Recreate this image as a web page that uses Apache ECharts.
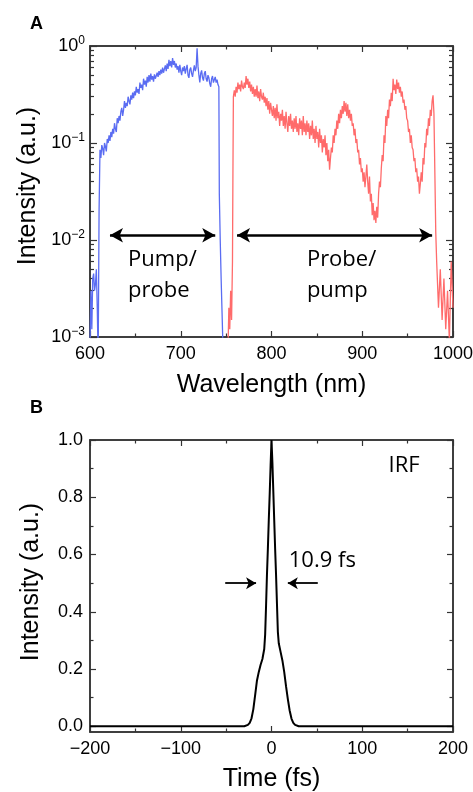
<!DOCTYPE html>
<html>
<head>
<meta charset="utf-8">
<script src="https://cdn.jsdelivr.net/npm/echarts@6/dist/echarts.min.js"></script>
<style>html,body{margin:0;padding:0;background:#fff}#c{width:473px;height:792px}</style>
</head>
<body>
<div id="c"></div>
<script>
// ---- Panel A: spectra (wavelength nm, intensity a.u.) ----
const blueWl = [600,601,602,603,604,605,606,607,608,609,610,
611,612,613,614,615,616,617,618,619,620,621,622,623,624,625,626,627,628,629,630,
631,632,633,634,635,636,637,638,639,640,641,642,643,644,645,646,647,648,649,650,
651,652,653,654,655,656,657,658,659,660,661,662,663,664,665,666,667,668,669,670,
671,672,673,674,675,676,677,678,679,680,681,682,683,684,685,686,687,688,689,690,
691,692,693,694,695,696,697,698,699,700,701,702,703,704,705,706,707,708,709,710,
711,712,713,714,715,716,717,718,719,720,721,722,723,724,725,726,727,728,729,730,
731,732,733,734,735,736,737,738,739,740,741,742,742.5,743.5,744.5,745.5,746.5];
const blueI = [0.0008,0.003,0.0012,0.004,0.0045,0.003,0.0035,0.005,0.002,0.0006,0.02,
0.085,0.07,0.095,0.088,0.075,0.1,0.092,0.082,0.11,0.1,0.12,0.105,0.13,0.115,0.14,0.125,0.16,0.14,0.13,0.18,
0.16,0.19,0.17,0.21,0.23,0.19,0.22,0.27,0.23,0.26,0.24,0.3,0.27,0.25,0.31,0.28,0.33,0.29,0.34,0.31,
0.38,0.33,0.36,0.32,0.42,0.37,0.4,0.35,0.46,0.4,0.44,0.38,0.48,0.42,0.5,0.43,0.52,0.45,0.49,0.43,
0.51,0.46,0.44,0.53,0.48,0.55,0.5,0.57,0.52,0.6,0.53,0.58,0.63,0.55,0.66,0.58,0.72,0.62,0.7,0.6,
0.75,0.64,0.7,0.6,0.66,0.57,0.62,0.53,0.64,0.55,0.5,0.6,0.55,0.62,0.52,0.58,0.64,0.5,0.47,0.57,
0.6,0.52,0.48,0.56,0.63,0.55,0.6,0.95,0.62,0.5,0.42,0.52,0.56,0.47,0.44,0.52,0.55,0.46,0.43,0.5,
0.47,0.41,0.38,0.46,0.49,0.42,0.44,0.48,0.42,0.45,0.4,0.38,0.03,0.01,0.004,0.0018,0.0008];

const redWl = [752,753,754,755,756,757,757.5,
758,759,760,761,762,763,764,765,766,767,768,769,770,771,772,773,774,775,776,777,778,779,780,
781,782,783,784,785,786,787,788,789,790,791,792,793,794,795,796,797,798,799,800,
801,802,803,804,805,806,807,808,809,810,811,812,813,814,815,816,817,818,819,820,
821,822,823,824,825,826,827,828,829,830,831,832,833,834,835,836,837,838,839,840,
841,842,843,844,845,846,847,848,849,850,851,852,853,854,855,856,857,858,859,860,
861,862,863,864,865,866,867,868,869,870,871,872,873,874,875,876,877,878,879,880,
881,882,883,884,885,886,887,888,889,890,891,892,893,894,895,896,897,898,899,900,
901,902,903,904,905,906,907,908,909,910,911,912,913,914,915,916,917,918,919,920,
921,922,923,924,925,926,927,928,929,930,931,932,933,934,935,936,937,938,939,940,
941,942,943,944,945,946,947,948,949,950,951,952,953,954,955,956,957,958,959,960,
961,962,963,964,965,966,967,968,969,970,971,972,973,974,975,976,977,978,979,980,
981,982,984,986,988,990,992,994,996,998,1000];
const redI = [0.0007,0.002,0.0012,0.003,0.0015,0.006,0.05,
0.3,0.35,0.3,0.38,0.33,0.42,0.36,0.4,0.34,0.44,0.38,0.36,0.42,0.37,0.49,0.4,0.46,0.37,0.43,0.34,0.4,0.32,0.38,
0.3,0.36,0.3,0.39,0.29,0.34,0.27,0.36,0.3,0.28,0.33,0.26,0.3,0.24,0.29,0.22,0.27,0.2,0.26,0.22,
0.19,0.24,0.18,0.23,0.17,0.25,0.18,0.21,0.15,0.2,0.17,0.22,0.15,0.19,0.14,0.21,0.16,0.13,0.19,0.15,
0.2,0.14,0.17,0.13,0.18,0.14,0.19,0.13,0.16,0.12,0.18,0.14,0.17,0.12,0.19,0.13,0.16,0.12,0.17,0.13,
0.16,0.11,0.15,0.12,0.17,0.11,0.14,0.1,0.15,0.11,0.13,0.09,0.14,0.1,0.12,0.08,0.11,0.09,0.12,0.075,
0.1,0.065,0.085,0.053,0.07,0.09,0.08,0.12,0.1,0.14,0.12,0.17,0.14,0.2,0.16,0.22,0.18,0.24,0.2,0.27,
0.21,0.26,0.19,0.25,0.18,0.22,0.17,0.2,0.15,0.16,0.12,0.14,0.1,0.11,0.08,0.085,0.06,0.07,0.05,0.055,
0.04,0.05,0.035,0.045,0.06,0.04,0.03,0.045,0.025,0.03,0.018,0.024,0.016,0.02,0.015,0.022,0.017,0.03,0.04,0.035,
0.055,0.075,0.065,0.12,0.1,0.19,0.15,0.22,0.18,0.28,0.24,0.33,0.27,0.46,0.35,0.4,0.32,0.45,0.36,0.42,
0.33,0.38,0.3,0.34,0.26,0.28,0.22,0.24,0.18,0.17,0.13,0.14,0.1,0.12,0.09,0.085,0.065,0.07,0.05,0.055,
0.04,0.045,0.03,0.038,0.05,0.04,0.07,0.06,0.1,0.09,0.14,0.12,0.18,0.15,0.22,0.19,0.27,0.31,0.2,0.05,
0.012,0.006,0.002,0.005,0.0015,0.004,0.0012,0.003,0.0009,0.006,0.002];

// ---- Panel B: instrument response function (time fs, intensity a.u.) ----
const irfT = [-200,-100,-30,-28,-26,-24,-22,-20,-18,-16,-14,-12,-10,-8,-7,-6,-5,-4,-3,-2,-1,0,1,2,3,4,5,6,7,8,10,12,14,16,18,20,22,24,26,28,30,100,200];
const irfI = [0,0,0,0.002,0.005,0.012,0.028,0.06,0.11,0.16,0.19,0.215,0.235,0.27,0.32,0.42,0.53,0.62,0.72,0.81,0.91,1.0,0.92,0.82,0.72,0.62,0.53,0.43,0.33,0.29,0.26,0.23,0.19,0.14,0.095,0.055,0.027,0.012,0.005,0.002,0,0,0];

// ---- tick values ----
const aYMajor = [0.001,0.01,0.1,1];
const aYMinor = [0.002,0.003,0.004,0.005,0.006,0.007,0.008,0.009,0.02,0.03,0.04,0.05,0.06,0.07,0.08,0.09,0.2,0.3,0.4,0.5,0.6,0.7,0.8,0.9];
const bYMajor = [0,0.2,0.4,0.6,0.8,1.0];
const bYMinor = [0.1,0.3,0.5,0.7,0.9];

const zip = (a,b)=>a.map((v,i)=>[v,b[i]]);
const FONT = 'Liberation Sans, Arial, sans-serif';
const AFONT = 'Open Sans, sans-serif';
const frame = {show:true, onZero:false, lineStyle:{color:'#333', width:1.5}};
const noLine = {show:false, onZero:false};
const tickStyle = {color:'#333', width:1.2};

function xAx(grid, pos, min, max, showLabel, extra){
  return Object.assign({
    gridIndex:grid, type:'value', position:pos, min:min, max:max, interval:100,
    axisLine:frame, splitLine:{show:false},
    axisTick:{show:true, inside:true, length:6, lineStyle:tickStyle},
    minorTick:{show:true, splitNumber:2, length:3.5, lineStyle:tickStyle},
    axisLabel:{show:showLabel, fontSize:18, color:'#000', fontFamily:FONT,
      formatter:v=>String(v).replace('-','\u2212')}
  }, extra||{});
}
function yTicks(grid, type, min, max, pos, vals, len, line){
  const o = {gridIndex:grid, type:type, min:min, max:max, position:pos,
    axisLine: line ? frame : noLine, splitLine:{show:false},
    axisTick:{show:true, inside:true, length:len, customValues:vals, lineStyle:tickStyle},
    axisLabel:{show:false}};
  if (type==='log') o.logBase = 10;
  return o;
}
const gridBase = {show:true, borderColor:'#333', borderWidth:1.5, backgroundColor:'transparent',
  containLabel:false, outerBoundsMode:'none'};

const option = {
  animation:false,
  backgroundColor:'#fff',
  title:[
    {text:'A', left:25, top:10, textStyle:{fontSize:18, fontWeight:'bold', color:'#000', fontFamily:FONT}},
    {text:'B', left:25, top:394, textStyle:{fontSize:18, fontWeight:'bold', color:'#000', fontFamily:FONT}}
  ],
  grid:[
    Object.assign({left:90, top:46, width:363, height:291}, gridBase),
    Object.assign({left:90, top:440, width:363, height:292}, gridBase)
  ],
  xAxis:[
    xAx(0,'bottom',600,1000,true,{name:'Wavelength (nm)', nameLocation:'middle', nameGap:36,
      nameTextStyle:{fontSize:25, color:'#000', fontFamily:FONT}}),
    xAx(0,'top',600,1000,false),
    xAx(1,'bottom',-200,200,true,{name:'Time (fs)', nameLocation:'middle', nameGap:35,
      nameTextStyle:{fontSize:25, color:'#000', fontFamily:FONT}}),
    xAx(1,'top',-200,200,false)
  ],
  yAxis:[
    Object.assign(yTicks(0,'log',0.001,1,'left',aYMajor,7,true), {
      axisLabel:{show:true, customValues:aYMajor, margin:5, color:'#000', fontFamily:FONT,
        formatter:v=>{const e=Math.round(Math.log10(v));return '{b|10}{s|'+(e<0?'\u2212'+(-e):e)+'}';},
        rich:{b:{fontSize:18, lineHeight:22, fontFamily:FONT, color:'#000'},
              s:{fontSize:12, lineHeight:12, verticalAlign:'top', fontFamily:FONT, color:'#000'}}},
      name:'Intensity (a.u.)', nameLocation:'middle', nameGap:46,
      nameTextStyle:{fontSize:25, color:'#000', fontFamily:FONT, padding:[0,0,0,11]}}),
    yTicks(0,'log',0.001,1,'right',aYMajor,7,true),
    yTicks(0,'log',0.001,1,'left',aYMinor,4,false),
    yTicks(0,'log',0.001,1,'right',aYMinor,4,false),
    Object.assign(yTicks(1,'value',-0.02,1,'left',bYMajor,6,true), {
      axisLabel:{show:true, customValues:bYMajor, margin:7, fontSize:18, color:'#000', fontFamily:FONT,
        formatter:v=>Number(v).toFixed(1)},
      name:'Intensity (a.u.)', nameLocation:'middle', nameGap:46,
      nameTextStyle:{fontSize:25, color:'#000', fontFamily:FONT, padding:[0,0,0,8]}}),
    yTicks(1,'value',-0.02,1,'right',bYMajor,6,true),
    yTicks(1,'value',-0.02,1,'left',bYMinor,3.5,false),
    yTicks(1,'value',-0.02,1,'right',bYMinor,3.5,false)
  ],
  series:[
    {type:'line', xAxisIndex:0, yAxisIndex:0, data:zip(blueWl,blueI), showSymbol:false, silent:true,
     lineStyle:{color:'#5a6cf2', width:1.3}},
    {type:'line', xAxisIndex:0, yAxisIndex:0, data:zip(redWl,redI), showSymbol:false, silent:true,
     lineStyle:{color:'#ff6b6b', width:1.3}},
    {type:'line', xAxisIndex:0, yAxisIndex:0, data:[], silent:true,
     markLine:{silent:true, symbol:['arrow','arrow'], symbolSize:[11,13], label:{show:false},
       lineStyle:{color:'#000', width:2.5, type:'solid'},
       data:[[{coord:[622,0.0112]},{coord:[738,0.0112]}],[{coord:[762,0.0112]},{coord:[977,0.0112]}]]},
     markPoint:{silent:true, symbol:'rect', symbolSize:0,
       label:{show:true, position:'inside', align:'left', verticalAlign:'middle', fontSize:22, lineHeight:31,
         color:'#000', fontFamily:AFONT, formatter:p=>p.name},
       data:[{name:'Pump/\nprobe', coord:[642,0.0043]},{name:'Probe/\npump', coord:[839,0.0043]}]}},
    {type:'line', xAxisIndex:2, yAxisIndex:4, data:zip(irfT,irfI), showSymbol:false, silent:true,
     lineStyle:{color:'#000', width:2},
     markLine:{silent:true, symbol:['none','arrow'], symbolSize:[9,10], label:{show:false},
       lineStyle:{color:'#000', width:1.8, type:'solid'},
       data:[[{coord:[-51,0.5]},{coord:[-17,0.5]}],[{coord:[51,0.5]},{coord:[18,0.5]}]]},
     markPoint:{silent:true, symbol:'rect', symbolSize:0,
       label:{show:true, position:'inside', align:'left', verticalAlign:'middle', fontSize:22,
         color:'#000', fontFamily:AFONT, formatter:p=>p.name},
       data:[{name:'IRF', coord:[129,0.91]},{name:'10.9 fs', coord:[19,0.578]}]}}
  ]
};
const chart = echarts.init(document.getElementById('c'), null, {renderer:'canvas'});
chart.setOption(option);
</script>
</body>
</html>
